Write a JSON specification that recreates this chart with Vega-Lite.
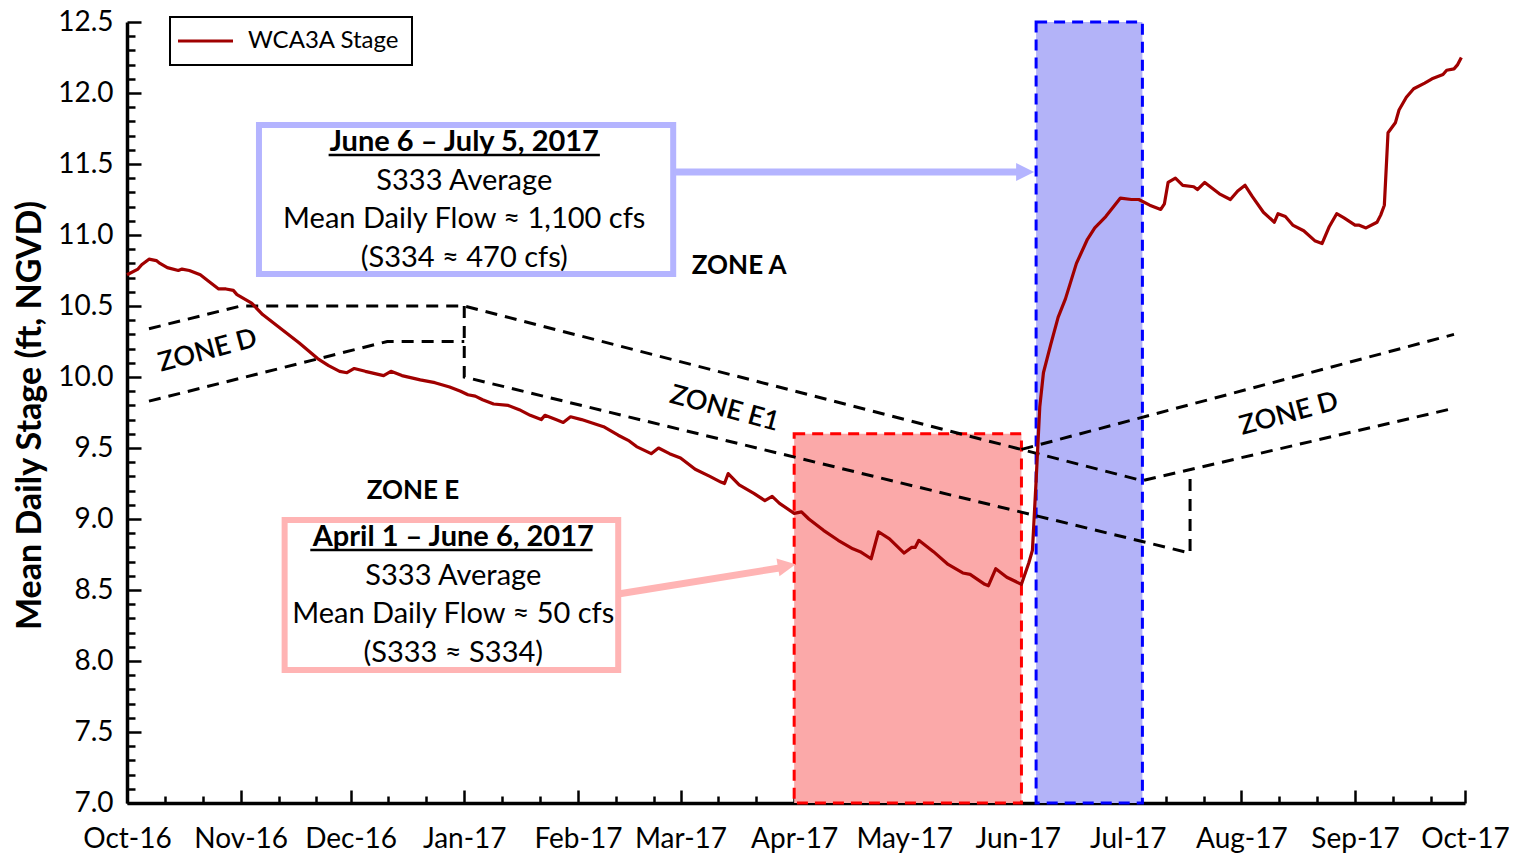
{
  "$schema": "https://vega.github.io/schema/vega-lite/v6.json",
  "width": 1338,
  "height": 781,
  "autosize": {"type": "none"},
  "padding": {"left": 127, "top": 22, "right": 53, "bottom": 50},
  "background": "white",
  "config": {
    "view": {"stroke": null},
    "font": "Lato",
    "axis": {"labelFont": "Lato", "titleFont": "Lato", "labelColor": "black", "titleColor": "black", "domainColor": "black", "tickColor": "black", "grid": false},
    "legend": {"strokeWidth": 2}
  },
  "resolve": {"axis": {"x": "independent", "y": "independent"}},
  "layer": [
    {
      "data": {"values": [{"period": "April 1 – June 6, 2017", "date": "2017-04-01", "end": "2017-06-02", "v": 7.0, "top": 9.6}]},
      "mark": {"type": "rect", "fill": "#FBA9A9", "stroke": "#FF0000", "strokeWidth": 3, "strokeDash": [11, 7]},
      "encoding": {
        "x": {
          "field": "date", "type": "temporal",
          "scale": {"type": "utc", "nice": false, "domain": [{"year": 2016, "month": 10, "date": 1, "utc": true}, {"year": 2017, "month": 10, "date": 1, "utc": true}]},
          "axis": {
            "orient": "bottom", "title": null, "labels": false, "domain": false, "tickSize": -7, "tickWidth": 2.5,
            "values": [
              {"year": 2016, "month": 10, "date": 11, "hours": 8, "utc": true}, {"year": 2016, "month": 10, "date": 21, "hours": 16, "utc": true},
              {"year": 2016, "month": 11, "date": 11, "hours": 8, "utc": true}, {"year": 2016, "month": 11, "date": 21, "hours": 16, "utc": true},
              {"year": 2016, "month": 12, "date": 11, "hours": 8, "utc": true}, {"year": 2016, "month": 12, "date": 21, "hours": 16, "utc": true},
              {"year": 2017, "month": 1, "date": 11, "hours": 8, "utc": true}, {"year": 2017, "month": 1, "date": 21, "hours": 16, "utc": true},
              {"year": 2017, "month": 2, "date": 11, "hours": 8, "utc": true}, {"year": 2017, "month": 2, "date": 21, "hours": 16, "utc": true},
              {"year": 2017, "month": 3, "date": 11, "hours": 8, "utc": true}, {"year": 2017, "month": 3, "date": 21, "hours": 16, "utc": true},
              {"year": 2017, "month": 4, "date": 11, "hours": 8, "utc": true}, {"year": 2017, "month": 4, "date": 21, "hours": 16, "utc": true},
              {"year": 2017, "month": 5, "date": 11, "hours": 8, "utc": true}, {"year": 2017, "month": 5, "date": 21, "hours": 16, "utc": true},
              {"year": 2017, "month": 6, "date": 11, "hours": 8, "utc": true}, {"year": 2017, "month": 6, "date": 21, "hours": 16, "utc": true},
              {"year": 2017, "month": 7, "date": 11, "hours": 8, "utc": true}, {"year": 2017, "month": 7, "date": 21, "hours": 16, "utc": true},
              {"year": 2017, "month": 8, "date": 11, "hours": 8, "utc": true}, {"year": 2017, "month": 8, "date": 21, "hours": 16, "utc": true},
              {"year": 2017, "month": 9, "date": 11, "hours": 8, "utc": true}, {"year": 2017, "month": 9, "date": 21, "hours": 16, "utc": true}
            ]
          }
        },
        "y": {
          "field": "v", "type": "quantitative",
          "scale": {"domain": [7, 12.5], "nice": false, "zero": false},
          "axis": {
            "orient": "left", "title": null, "labels": false, "domain": false, "tickSize": -8, "tickWidth": 2.5,
            "values": [7.1, 7.2, 7.3, 7.4, 7.6, 7.7, 7.8, 7.9, 8.1, 8.2, 8.3, 8.4, 8.6, 8.7, 8.8, 8.9, 9.1, 9.2, 9.3, 9.4, 9.6, 9.7, 9.8, 9.9, 10.1, 10.2, 10.3, 10.4, 10.6, 10.7, 10.8, 10.9, 11.1, 11.2, 11.3, 11.4, 11.6, 11.7, 11.8, 11.9, 12.1, 12.2, 12.3, 12.4]
          }
        },
        "x2": {"field": "end"},
        "y2": {"field": "top"}
      }
    },
    {
      "encoding": {
        "x": {
          "field": "date", "type": "temporal",
          "scale": {"type": "utc", "nice": false, "domain": [{"year": 2016, "month": 10, "date": 1, "utc": true}, {"year": 2017, "month": 10, "date": 1, "utc": true}]},
          "axis": {
            "orient": "bottom",
            "title": null,
            "values": [
              {"year": 2016, "month": 10, "date": 1, "utc": true}, {"year": 2016, "month": 11, "date": 1, "utc": true}, {"year": 2016, "month": 12, "date": 1, "utc": true},
              {"year": 2017, "month": 1, "date": 1, "utc": true}, {"year": 2017, "month": 2, "date": 1, "utc": true}, {"year": 2017, "month": 3, "date": 1, "utc": true},
              {"year": 2017, "month": 4, "date": 1, "utc": true}, {"year": 2017, "month": 5, "date": 1, "utc": true}, {"year": 2017, "month": 6, "date": 1, "utc": true},
              {"year": 2017, "month": 7, "date": 1, "utc": true}, {"year": 2017, "month": 8, "date": 1, "utc": true}, {"year": 2017, "month": 9, "date": 1, "utc": true},
              {"year": 2017, "month": 10, "date": 1, "utc": true}
            ],
            "labelExpr": "utcFormat(datum.value, '%b-%y')",
            "tickSize": -13,
            "labelPadding": 35,
            "labelFontSize": 28,
            "labelOverlap": false,
            "labelFlush": false,
            "domainWidth": 3.5,
            "tickWidth": 2.5
          }
        },
        "y": {
          "field": "v", "type": "quantitative",
          "scale": {"domain": [7, 12.5], "nice": false, "zero": false},
          "axis": {
            "orient": "left",
            "title": "Mean Daily Stage (ft, NGVD)",
            "values": [7, 7.5, 8, 8.5, 9, 9.5, 10, 10.5, 11, 11.5, 12, 12.5],
            "format": ".1f",
            "tickSize": -14,
            "labelPadding": 28,
            "labelFontSize": 28,
            "labelOverlap": false,
            "labelFlush": false,
            "domainWidth": 3.5,
            "tickWidth": 2.5,
            "titleFontSize": 34,
            "titleFontWeight": "bold",
            "titleAngle": 270,
            "titleAlign": "center",
            "titleBaseline": "middle",
            "titleX": -97,
            "titleY": 393
          }
        }
      },
      "layer": [
        {
          "data": {"values": [{"period": "June 6 – July 5, 2017", "date": "2017-06-06", "end": "2017-07-05", "v": 7.0, "top": 12.5}]},
          "mark": {"type": "rect", "fill": "#B3B3F8", "stroke": "#0000FF", "strokeWidth": 3, "strokeDash": [11, 7]},
          "encoding": {"x2": {"field": "end"}, "y2": {"field": "top"}}
        },
        {
          "data": {"values": [
            {"grp": "g1", "seq": 1, "date": "2016-10-07", "v": 10.34},
            {"grp": "g1", "seq": 2, "date": "2016-11-01", "v": 10.5},
            {"grp": "g1", "seq": 3, "date": "2017-01-01", "v": 10.5},
            {"grp": "g1", "seq": 4, "date": "2017-07-05", "v": 9.27},
            {"grp": "g1", "seq": 5, "date": "2017-09-28", "v": 9.78},
            {"grp": "g2", "seq": 1, "date": "2017-01-01", "v": 10.5},
            {"grp": "g2", "seq": 2, "date": "2017-01-01", "v": 10.0},
            {"grp": "g2", "seq": 3, "date": "2017-07-18", "v": 8.76},
            {"grp": "g2", "seq": 4, "date": "2017-07-18", "v": 9.34},
            {"grp": "g3", "seq": 1, "date": "2016-10-07", "v": 9.83},
            {"grp": "g3", "seq": 2, "date": "2016-12-11", "v": 10.25},
            {"grp": "g3", "seq": 3, "date": "2017-01-01", "v": 10.25},
            {"grp": "g4", "seq": 1, "date": "2017-06-02", "v": 9.49},
            {"grp": "g4", "seq": 2, "date": "2017-09-28", "v": 10.3}
          ]},
          "mark": {"type": "line", "color": "black", "strokeWidth": 3, "strokeDash": [12, 8]},
          "encoding": {"detail": {"field": "grp"}, "order": {"field": "seq", "type": "quantitative"}}
        },
        {
          "data": {"values": [{"date": "2016-11-06", "end": "2017-02-27", "v": 10.725, "top": 11.775}]},
          "mark": {"type": "rect", "fill": "white", "stroke": "#B4B4FF", "strokeWidth": 6},
          "encoding": {"x2": {"field": "end"}, "y2": {"field": "top"}}
        },
        {
          "data": {"values": [{"date": "2016-11-13", "end": "2017-02-12", "v": 7.937, "top": 8.993}]},
          "mark": {"type": "rect", "fill": "white", "stroke": "#FFB4B4", "strokeWidth": 6},
          "encoding": {"x2": {"field": "end"}, "y2": {"field": "top"}}
        },
        {
          "data": {"values": [{"date": "2017-02-27", "end": "2017-06-01", "v": 11.444}]},
          "mark": {"type": "rule", "color": "#B4B4FF", "strokeWidth": 7},
          "encoding": {"x2": {"field": "end"}}
        },
        {
          "data": {"values": [{"date": "2017-06-03", "v": 11.444}]},
          "mark": {"type": "point", "shape": "M-1,-1L1,0L-1,1Z", "filled": true, "color": "#B4B4FF", "opacity": 1, "size": 324}
        },
        {
          "data": {"values": [{"date": "2017-02-12", "end": "2017-03-28", "v": 8.472, "v2": 8.655}]},
          "mark": {"type": "rule", "color": "#FFB4B4", "strokeWidth": 7},
          "encoding": {"x2": {"field": "end"}, "y2": {"field": "v2"}}
        },
        {
          "data": {"values": [{"date": "2017-03-30", "v": 8.67}]},
          "mark": {"type": "point", "shape": "M-1,-1L1,0L-1,1Z", "filled": true, "color": "#FFB4B4", "opacity": 1, "size": 324, "angle": -9.5}
        },
        {
          "data": {"values": [
            {"date": "2016-10-01", "v": 10.72}, {"date": "2016-10-04", "v": 10.76}, {"date": "2016-10-05", "v": 10.79}, {"date": "2016-10-07", "v": 10.83},
            {"date": "2016-10-09", "v": 10.82}, {"date": "2016-10-10", "v": 10.80}, {"date": "2016-10-12", "v": 10.77}, {"date": "2016-10-15", "v": 10.75},
            {"date": "2016-10-16", "v": 10.76}, {"date": "2016-10-18", "v": 10.75}, {"date": "2016-10-21", "v": 10.72}, {"date": "2016-10-23", "v": 10.68},
            {"date": "2016-10-26", "v": 10.62}, {"date": "2016-10-28", "v": 10.62}, {"date": "2016-10-30", "v": 10.61}, {"date": "2016-10-31", "v": 10.58},
            {"date": "2016-11-04", "v": 10.52}, {"date": "2016-11-07", "v": 10.44}, {"date": "2016-11-12", "v": 10.34}, {"date": "2016-11-17", "v": 10.24},
            {"date": "2016-11-22", "v": 10.13}, {"date": "2016-11-25", "v": 10.08}, {"date": "2016-11-28", "v": 10.04}, {"date": "2016-11-30", "v": 10.03},
            {"date": "2016-12-02", "v": 10.06}, {"date": "2016-12-05", "v": 10.04}, {"date": "2016-12-10", "v": 10.01}, {"date": "2016-12-12", "v": 10.04},
            {"date": "2016-12-15", "v": 10.01}, {"date": "2016-12-20", "v": 9.98}, {"date": "2016-12-24", "v": 9.96}, {"date": "2016-12-28", "v": 9.93},
            {"date": "2016-12-31", "v": 9.90}, {"date": "2017-01-02", "v": 9.875}, {"date": "2017-01-04", "v": 9.865}, {"date": "2017-01-06", "v": 9.84},
            {"date": "2017-01-09", "v": 9.81}, {"date": "2017-01-13", "v": 9.80}, {"date": "2017-01-16", "v": 9.77}, {"date": "2017-01-19", "v": 9.73},
            {"date": "2017-01-22", "v": 9.70}, {"date": "2017-01-23", "v": 9.73}, {"date": "2017-01-26", "v": 9.70}, {"date": "2017-01-28", "v": 9.68},
            {"date": "2017-01-30", "v": 9.72}, {"date": "2017-02-02", "v": 9.70}, {"date": "2017-02-08", "v": 9.65}, {"date": "2017-02-12", "v": 9.59},
            {"date": "2017-02-15", "v": 9.55}, {"date": "2017-02-17", "v": 9.51}, {"date": "2017-02-21", "v": 9.46}, {"date": "2017-02-23", "v": 9.50},
            {"date": "2017-02-26", "v": 9.46}, {"date": "2017-03-01", "v": 9.43}, {"date": "2017-03-05", "v": 9.35}, {"date": "2017-03-09", "v": 9.30},
            {"date": "2017-03-12", "v": 9.26}, {"date": "2017-03-13", "v": 9.25}, {"date": "2017-03-14", "v": 9.32}, {"date": "2017-03-17", "v": 9.24},
            {"date": "2017-03-21", "v": 9.18}, {"date": "2017-03-24", "v": 9.13}, {"date": "2017-03-26", "v": 9.16}, {"date": "2017-03-28", "v": 9.11},
            {"date": "2017-04-01", "v": 9.04}, {"date": "2017-04-03", "v": 9.05}, {"date": "2017-04-05", "v": 9.00}, {"date": "2017-04-09", "v": 8.92},
            {"date": "2017-04-13", "v": 8.85}, {"date": "2017-04-17", "v": 8.79}, {"date": "2017-04-19", "v": 8.77}, {"date": "2017-04-22", "v": 8.72},
            {"date": "2017-04-24", "v": 8.91}, {"date": "2017-04-27", "v": 8.86}, {"date": "2017-05-01", "v": 8.76}, {"date": "2017-05-03", "v": 8.80},
            {"date": "2017-05-04", "v": 8.80}, {"date": "2017-05-05", "v": 8.85}, {"date": "2017-05-09", "v": 8.77}, {"date": "2017-05-13", "v": 8.68},
            {"date": "2017-05-17", "v": 8.62}, {"date": "2017-05-19", "v": 8.61}, {"date": "2017-05-23", "v": 8.54}, {"date": "2017-05-24", "v": 8.53},
            {"date": "2017-05-26", "v": 8.65}, {"date": "2017-05-29", "v": 8.59}, {"date": "2017-06-02", "v": 8.54}, {"date": "2017-06-04", "v": 8.69},
            {"date": "2017-06-05", "v": 8.78}, {"date": "2017-06-06", "v": 9.27}, {"date": "2017-06-07", "v": 9.79}, {"date": "2017-06-08", "v": 10.03},
            {"date": "2017-06-10", "v": 10.23}, {"date": "2017-06-12", "v": 10.42}, {"date": "2017-06-14", "v": 10.55}, {"date": "2017-06-17", "v": 10.80},
            {"date": "2017-06-20", "v": 10.97}, {"date": "2017-06-22", "v": 11.05}, {"date": "2017-06-25", "v": 11.13}, {"date": "2017-06-29", "v": 11.26},
            {"date": "2017-07-02", "v": 11.25}, {"date": "2017-07-04", "v": 11.25}, {"date": "2017-07-07", "v": 11.21}, {"date": "2017-07-10", "v": 11.18},
            {"date": "2017-07-11", "v": 11.22}, {"date": "2017-07-12", "v": 11.37}, {"date": "2017-07-14", "v": 11.40}, {"date": "2017-07-16", "v": 11.35},
            {"date": "2017-07-19", "v": 11.34}, {"date": "2017-07-20", "v": 11.32}, {"date": "2017-07-22", "v": 11.37}, {"date": "2017-07-26", "v": 11.29},
            {"date": "2017-07-29", "v": 11.25}, {"date": "2017-07-31", "v": 11.31}, {"date": "2017-08-02", "v": 11.35}, {"date": "2017-08-04", "v": 11.27},
            {"date": "2017-08-07", "v": 11.16}, {"date": "2017-08-10", "v": 11.09}, {"date": "2017-08-11", "v": 11.15}, {"date": "2017-08-13", "v": 11.13},
            {"date": "2017-08-15", "v": 11.07}, {"date": "2017-08-18", "v": 11.03}, {"date": "2017-08-21", "v": 10.96}, {"date": "2017-08-23", "v": 10.94},
            {"date": "2017-08-25", "v": 11.06}, {"date": "2017-08-27", "v": 11.15}, {"date": "2017-08-29", "v": 11.12}, {"date": "2017-09-01", "v": 11.07},
            {"date": "2017-09-02", "v": 11.07}, {"date": "2017-09-04", "v": 11.05}, {"date": "2017-09-07", "v": 11.09}, {"date": "2017-09-08", "v": 11.14},
            {"date": "2017-09-09", "v": 11.21}, {"date": "2017-09-10", "v": 11.72}, {"date": "2017-09-12", "v": 11.79}, {"date": "2017-09-13", "v": 11.88},
            {"date": "2017-09-15", "v": 11.97}, {"date": "2017-09-17", "v": 12.03}, {"date": "2017-09-20", "v": 12.07}, {"date": "2017-09-22", "v": 12.10},
            {"date": "2017-09-25", "v": 12.13}, {"date": "2017-09-26", "v": 12.16}, {"date": "2017-09-28", "v": 12.17}, {"date": "2017-09-29", "v": 12.20},
            {"date": "2017-09-30", "v": 12.25}
          ]},
          "mark": {"type": "line", "strokeWidth": 3.2, "strokeJoin": "round"},
          "encoding": {
            "color": {
              "datum": "WCA3A Stage",
              "scale": {"range": ["#A00000"]},
              "legend": {"orient": "none", "legendX": 43, "legendY": -5, "title": null, "symbolType": "M-1.6,0L3.9,0", "symbolSize": 400, "symbolStrokeWidth": 3, "labelFontSize": 24, "labelFont": "Lato", "labelColor": "black", "labelOffset": 42, "padding": 12, "strokeColor": "black", "fillColor": "white"}
            }
          }
        },
        {
          "data": {"values": [
            {"date": "2017-01-01", "v": 11.38, "t": "S333 Average"},
            {"date": "2017-01-01", "v": 11.113, "t": "Mean Daily Flow ≈ 1,100 cfs"},
            {"date": "2017-01-01", "v": 10.838, "t": "(S334 ≈ 470 cfs)"},
            {"date": "2016-12-29", "v": 8.599, "t": "S333 Average"},
            {"date": "2016-12-29", "v": 8.331, "t": "Mean Daily Flow ≈ 50 cfs"},
            {"date": "2016-12-29", "v": 8.056, "t": "(S333 ≈ S334)"}
          ]},
          "mark": {"type": "text", "font": "Lato", "fontSize": 29, "color": "black", "align": "center", "baseline": "middle"},
          "encoding": {"text": {"field": "t"}}
        },
        {
          "data": {"values": [
            {"date": "2017-01-01", "v": 11.655, "t": "June 6 – July 5, 2017"},
            {"date": "2016-12-29", "v": 8.873, "t": "April 1 – June 6, 2017"}
          ]},
          "mark": {"type": "text", "font": "Lato", "fontSize": 29, "fontWeight": "bold", "color": "black", "align": "center", "baseline": "middle"},
          "encoding": {"text": {"field": "t"}}
        },
        {
          "data": {"values": [
            {"date": "2016-11-25", "end": "2017-02-07", "v": 11.563},
            {"date": "2016-11-20", "end": "2017-02-05", "v": 8.782}
          ]},
          "mark": {"type": "rule", "color": "black", "strokeWidth": 2.5},
          "encoding": {"x2": {"field": "end"}}
        },
        {
          "data": {"values": [
            {"date": "2017-03-17", "v": 10.782, "t": "ZONE A"},
            {"date": "2016-12-18", "v": 9.197, "t": "ZONE E"}
          ]},
          "mark": {"type": "text", "font": "Lato", "fontSize": 26, "fontWeight": "bold", "color": "black", "align": "center", "baseline": "middle"},
          "encoding": {"text": {"field": "t"}}
        },
        {
          "data": {"values": [
            {"date": "2016-10-23", "v": 10.183, "t": "ZONE D"},
            {"date": "2017-08-14", "v": 9.739, "t": "ZONE D"}
          ]},
          "mark": {"type": "text", "font": "Lato", "fontSize": 27, "fontWeight": 600, "color": "black", "align": "center", "baseline": "middle", "angle": -15},
          "encoding": {"text": {"field": "t"}}
        },
        {
          "data": {"values": [{"date": "2017-03-13", "v": 9.775, "t": "ZONE E1"}]},
          "mark": {"type": "text", "font": "Lato", "fontSize": 27, "fontWeight": 600, "color": "black", "align": "center", "baseline": "middle", "angle": 15},
          "encoding": {"text": {"field": "t"}}
        }
      ]
    }
  ]
}
